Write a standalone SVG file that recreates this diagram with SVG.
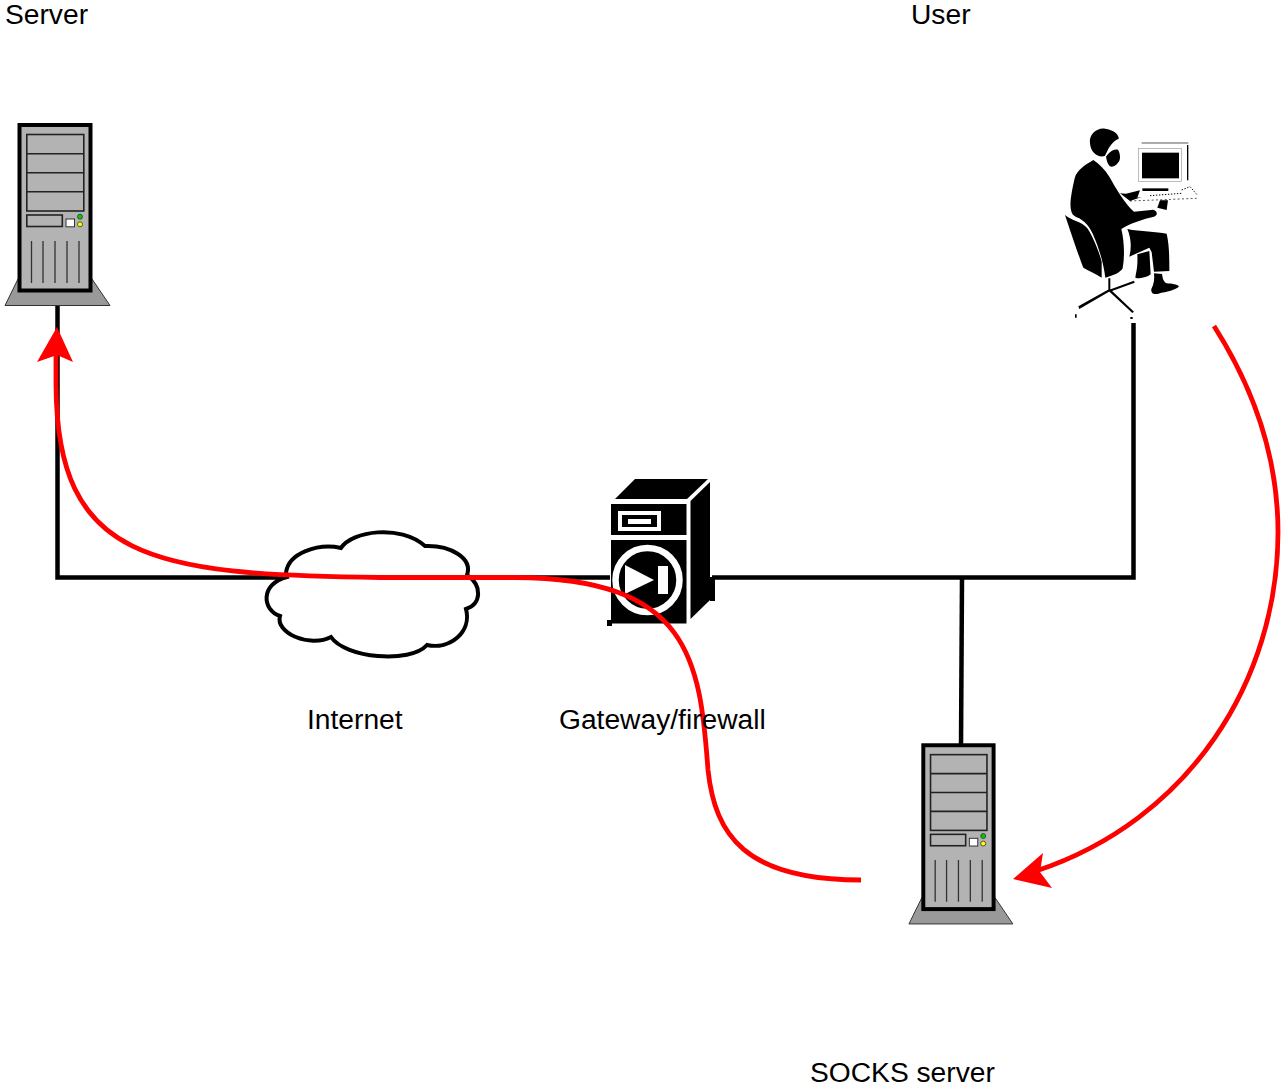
<svg xmlns="http://www.w3.org/2000/svg" width="1281" height="1086" viewBox="0 0 1281 1086">
<style>
.lbl{font-family:"Liberation Sans",Arial,sans-serif;font-size:28.2px;fill:#000}
.wire{fill:none;stroke:#000;stroke-width:4.500}
.red{fill:none;stroke:#f00;stroke-width:4.800}
.bay{fill:#b3b3b3;stroke:#222;stroke-width:1.600}
.vent{stroke:#333;stroke-width:1.300}
</style>
<defs>
<g id="tower">
<path d="M18 279 5 305.500H110L92 279Z" fill="#999" stroke="#333" stroke-width="1"/>
<rect x="19.500" y="125" width="71" height="165.500" fill="#b3b3b3" stroke="#000" stroke-width="4"/>
<rect class="bay" x="26.800" y="134.500" width="57" height="76.500"/>
<path class="bay" d="M26.800 153.700H83.800M26.800 172.700H83.800M26.800 191.800H83.800"/>
<rect class="bay" x="26.800" y="215" width="35.500" height="11.500"/>
<rect x="66" y="219" width="8.500" height="7.800" fill="#fff" stroke="#333" stroke-width="1"/>
<circle cx="80" cy="216.700" r="2.500" fill="#0c0" stroke="#333" stroke-width=".8"/>
<circle cx="80" cy="224.300" r="2.500" fill="#ff0" stroke="#333" stroke-width=".8"/>
<path class="vent" d="M31.500 241V283M43 241V283M55 241V283M67 241V283M79 241V283"/>
</g>
</defs>
<g id="connectors">
<path class="wire" d="M57.500 305V577.500H610M712 577.500H1133.500V323"/>
<path class="wire" d="M962 577.500 961 746"/>
</g>
<g id="server"><use href="#tower"/></g>
<g id="internet">
<path d="M286 573C288 553 318 543 341 548C352 531 400 524 425 546C450 545 473 558 467 575C483 586 481 604 466 609C472 632 450 650 427 645C410 664 345 658 331 637C310 648 275 633 280 616C262 610 260 584 287 577Z" fill="#fff" stroke="#000" stroke-width="4"/>
</g>
<g id="gateway">
<path d="M615 499 635 479H708L687 499Z"/>
<path d="M690.500 501 710 482V600L690.500 619Z"/>
<path d="M710 577H715V601H710Z"/>
<rect x="611" y="504" width="75.500" height="31"/>
<rect x="611" y="540" width="75.500" height="83.500"/>
<rect x="607" y="620" width="5" height="6"/>
<rect x="620" y="513" width="39" height="16" fill="none" stroke="#fff" stroke-width="4"/>
<rect x="628" y="519" width="23" height="5" fill="#fff"/>
<circle cx="647.500" cy="580" r="32" fill="none" stroke="#fff" stroke-width="6.500"/>
<path d="M625 565 654 580 625 594Z" fill="#fff"/>
<rect x="658" y="566" width="10" height="28" fill="#fff"/>
</g>
<g id="user" transform="translate(1050 115) scale(.33333)">
<path d="M120 85C116 58 140 38 165 41C190 44 208 58 206 72C192 76 184 88 176 100L165 122C150 130 122 118 120 85Z"/>
<path d="M168 125C176 114 188 100 204 104C212 118 212 135 205 142C196 155 185 158 178 152C172 145 170 135 168 125Z"/>
<path d="M130 135C105 150 80 165 74 190C66 225 58 265 63 285C65 296 70 302 78 306C105 315 122 340 132 365C145 395 160 440 166 488C190 482 212 472 218 460C225 420 222 375 214 342C240 325 280 312 312 305C325 300 322 288 310 284L252 290C225 268 195 215 178 185C165 165 150 148 130 135Z"/>
<path d="M45 300C65 318 95 318 112 340C130 365 150 420 155 440V488C135 475 115 468 100 458C85 420 60 345 45 300Z"/>
<path d="M232 342C270 350 320 350 350 356C358 390 358 430 358 468L312 470L305 412L298 398L238 425C246 395 242 365 232 342Z"/>
<path d="M262 418 298 408 302 478C290 488 270 492 256 488 258 470 264 458 262 418Z"/>
<path d="M312 475 336 477C338 490 340 500 350 505 365 506 382 508 387 514 378 526 350 530 325 536 312 540 302 535 304 522 312 508 314 490 312 475Z"/>
<path d="M175 490H181V525H175ZM85 574 178 522 181 528 88 582ZM180 522 252 590 247 594 176 528ZM178 524 252 497 254 503 180 530Z"/>
<path d="M75 598h5v10h-5ZM241 606h7v6h-7Z"/>
<path d="M275 84H415" stroke="#000" stroke-width="2"/>
<path d="M413 90V196" stroke="#000" stroke-width="4"/>
<rect x="265" y="101" width="130" height="99" fill="#fff" stroke="#999" stroke-width="2"/>
<rect x="276" y="113" width="111" height="77"/>
<path d="M277 220H355V228H277Z"/>
<path d="M210 235 228 236 270 226 262 248 275 246 240 258Z"/>
<path d="M330 256H354L350 285 322 278Z"/>
<path d="M300 242 395 235M395 225 420 215 442 240" fill="none" stroke="#000" stroke-width="3" stroke-dasharray="4 5"/>
<path d="M240 258 440 250" fill="none" stroke="#000" stroke-width="2" stroke-dasharray="6 7"/>
</g>
<g id="socks"><use href="#tower" transform="translate(904 621.500) scale(.99)"/></g>
<g id="paths">
<path class="red" d="M861 880C745 880 715 835 708 770C700 660 690 578 515 577.500L380 577.500C150 575 57 560 56 385V350"/>
<path d="M57 327 73 362 57 355 37 362Z" fill="#f00"/>
<path class="red" d="M1214 326C1258 395 1278 465 1278 532C1278 680 1190 820 1036 871"/>
<path d="M1013 879 1043 853 1040 872 1052 888Z" fill="#f00"/>
</g>
<text class="lbl" x="5" y="24">Server</text>
<text class="lbl" x="911" y="24">User</text>
<text class="lbl" x="307" y="729">Internet</text>
<text class="lbl" x="559" y="729">Gateway/firewall</text>
<text class="lbl" x="810" y="1082">SOCKS server</text>
</svg>
